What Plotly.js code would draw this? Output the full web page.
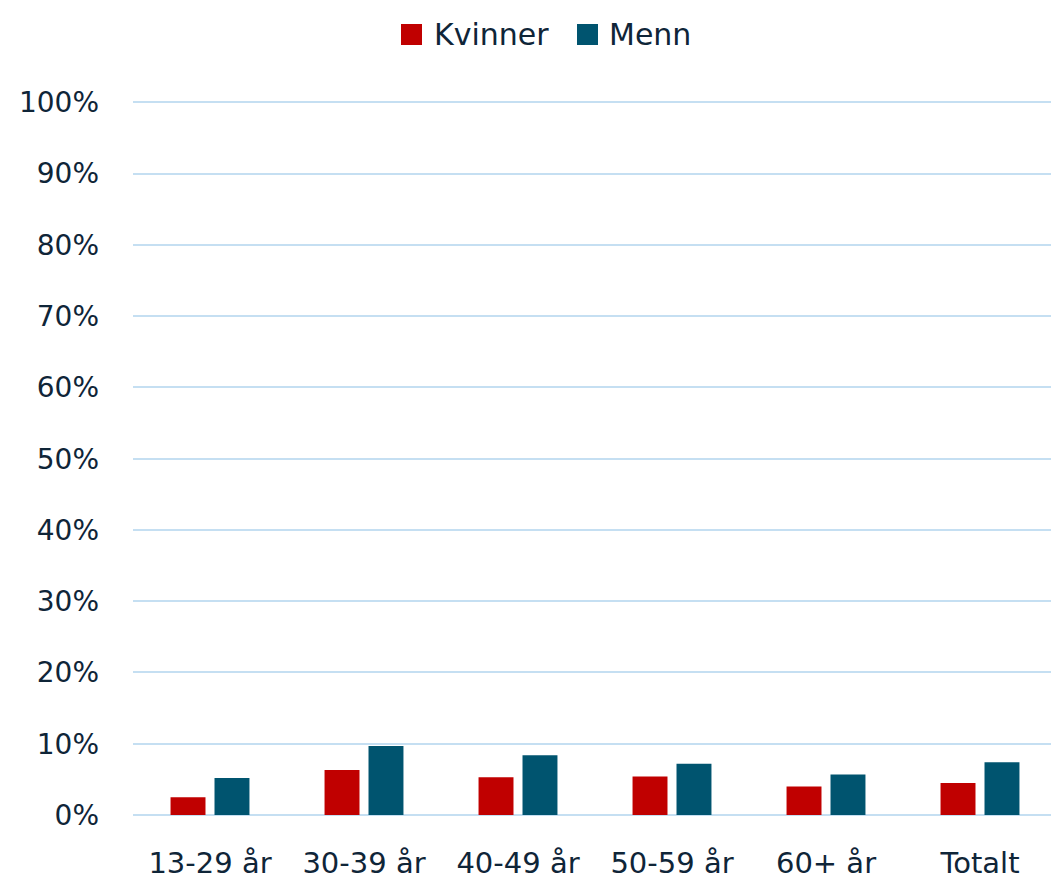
<!DOCTYPE html>
<html><head><meta charset="utf-8">
<script src="https://cdn.plot.ly/plotly-3.0.1.min.js"></script>
<style>html,body{margin:0;padding:0;overflow:hidden;background:#fff}#c{width:1057px;height:879px}</style>
</head><body><div id="c"></div>
<script>
const categories = ["13-29 år","30-39 år","40-49 år","50-59 år","60+ år","Totalt"];
const seriesNames = ["Kvinner","Menn"];
const kvinner = [2.5, 6.3, 5.3, 5.4, 4.0, 4.5];
const menn = [5.2, 9.7, 8.4, 7.2, 5.7, 7.4];
const yTickVals = [0,10,20,30,40,50,60,70,80,90,100];
const yTickText = yTickVals.map(v => v + "%");
const cK = "#c00000", cM = "#00546f", txt = "#0f2538";
const traces = [
  {type:"bar", name:seriesNames[0], x:categories, y:kvinner, marker:{color:cK}, hoverinfo:"skip"},
  {type:"bar", name:seriesNames[1], x:categories, y:menn, marker:{color:cM}, hoverinfo:"skip"}
];
// custom legend in pixel-derived paper coords (plot area: x 133..1057, y 815..101)
const L = 133, W = 924, B = 815, H = 714;
const px = v => (v - L) / W, py = v => (B - v) / H;
const legendItems = [
  {sq:[401,422], tx:432, name:seriesNames[0], color:cK},
  {sq:[577,598], tx:607, name:seriesNames[1], color:cM}
];
const shapes = [], annotations = [];
legendItems.forEach(it => {
  shapes.push({type:"rect", xref:"paper", yref:"paper", x0:px(it.sq[0]), x1:px(it.sq[1]), y0:py(45), y1:py(24), fillcolor:it.color, line:{width:0}});
  annotations.push({xref:"paper", yref:"paper", x:px(it.tx), y:py(34.5), xanchor:"left", yanchor:"middle", showarrow:false, text:it.name, font:{size:30, color:txt}});
});
const layout = {
  width:1057, height:879,
  margin:{l:133, r:0, t:101, b:64},
  paper_bgcolor:"#fff", plot_bgcolor:"#fff",
  font:{family:"DejaVu Sans", size:28, color:txt},
  barmode:"group", bargap:0.429, bargroupgap:0.205,
  showlegend:false,
  shapes:shapes, annotations:annotations,
  xaxis:{type:"category", showgrid:false, zeroline:false, showline:false, ticks:"", ticklabelstandoff:28, tickfont:{size:29, color:txt}},
  yaxis:{range:[0,100.2], tickvals:yTickVals, ticktext:yTickText, showgrid:true, gridcolor:"#c5dff2", gridwidth:2, zeroline:true, zerolinecolor:"#c5dff2", zerolinewidth:2, showline:false, ticks:"", ticklabelstandoff:33, tickfont:{size:28, color:txt}, fixedrange:true}
};
Plotly.newPlot("c", traces, layout, {displayModeBar:false, staticPlot:true});
</script></body></html>
